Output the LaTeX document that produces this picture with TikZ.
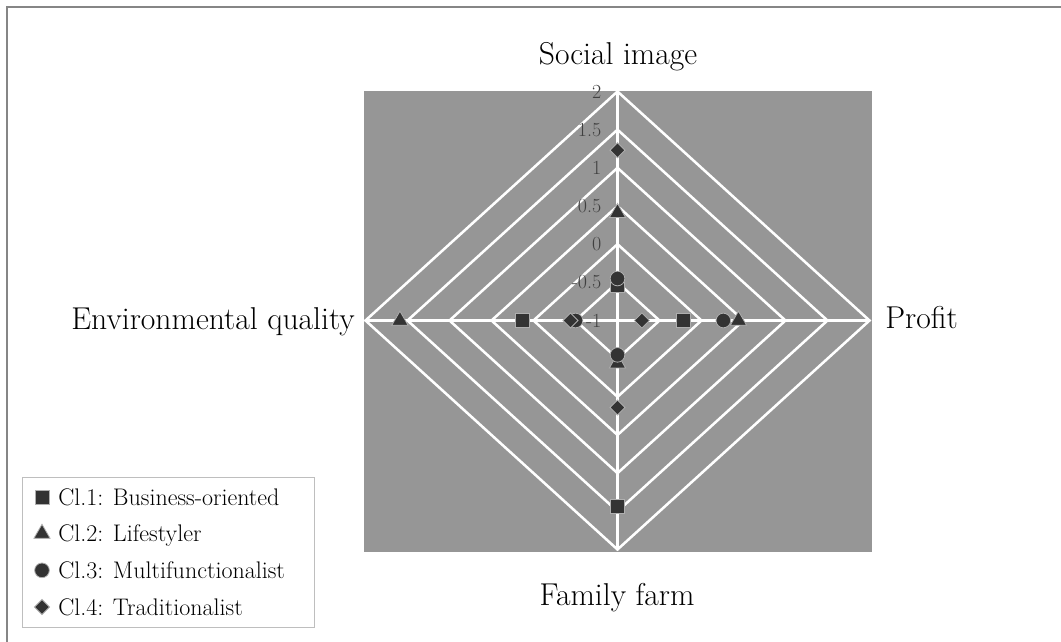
\documentclass[tikz,border=0pt]{standalone}
\usepackage{tikz}
\usetikzlibrary{shapes.geometric, positioning}
\definecolor{plotgray}{RGB}{150,150,150}
\definecolor{markfill}{RGB}{51,51,51}
\definecolor{markline}{RGB}{175,175,175}
\definecolor{framegray}{RGB}{134,134,134}
\definecolor{legendline}{RGB}{190,190,190}
\definecolor{ticktext}{RGB}{64,64,64}
\tikzstyle{webline} = [white, line width=1.9pt]
\tikzstyle{catlabel} = [inner sep=0, font=\fontsize{23.7}{28}\selectfont]
\tikzstyle{ticklabel} = [inner sep=0, anchor=east, text=ticktext, font=\fontsize{15}{17}\selectfont]
\tikzstyle{markbase} = [draw=markline, fill=markfill, line width=0.6pt, inner sep=0]
\tikzstyle{msquare} = [markbase, rectangle, minimum size=10.5pt]
\tikzstyle{mtriangle} = [markbase, regular polygon, regular polygon sides=3, minimum size=14pt]
\tikzstyle{mcircle} = [markbase, circle, minimum size=11pt]
\tikzstyle{mdiamond} = [markbase, diamond, minimum size=11.5pt]
\tikzstyle{legtext} = [inner sep=0, anchor=west, text height=12pt, text depth=0pt, font=\fontsize{18}{21}\selectfont]

\begin{document}
\begin{tikzpicture}[x=0.75pt, y=-0.75pt, node distance=27.5pt]
	\useasboundingbox (0,0) rectangle (1061,642);
	\clip (0,0) rectangle (1061,642);
	\draw[framegray, line width=1.5pt] (7,700) -- (7,7) -- (1100,7);
	\fill[plotgray] (364,91) rectangle (872,552);
	%----------------------------------------------------%
	\begin{scope}[shift={(617.5,320.5)}, x=63pt, y=57.25pt]
		\foreach \r in {0.5,1,...,3}
			\draw[webline] (\r,0) -- (0,\r) -- (-\r,0) -- (0,-\r) -- cycle;
		\draw[webline] (-3,0) -- (3,0);
		\draw[webline] (0,-3) -- (0,3);
		\foreach \v [count=\k] in {-1,-0.5,0,0.5,1,1.5,2}
			\node(tick\k) [ticklabel, xshift=-12pt] at (0,\v+1) {\v};
		
		%----------------------------------------------------%
		\node(c1soc) [msquare] at (0,0.46) {};
		\node(c1pro) [msquare] at (0.78,0) {};
		\node(c1fam) [msquare] at (0,-2.43) {};
		\node(c1env) [msquare] at (-1.13,0) {};
		
		\node(c2soc) [mtriangle] at (0,1.41) {};
		\node(c2pro) [mtriangle] at (1.44,0) {};
		\node(c2fam) [mtriangle] at (0,-0.56) {};
		\node(c2env) [mtriangle] at (-2.59,0) {};
		
		\node(c3soc) [mcircle] at (0,0.55) {};
		\node(c3pro) [mcircle] at (1.26,0) {};
		\node(c3fam) [mcircle] at (0,-0.45) {};
		\node(c3env) [mcircle] at (-0.5,0) {};
		
		\node(c4soc) [mdiamond] at (0,2.23) {};
		\node(c4pro) [mdiamond] at (0.29,0) {};
		\node(c4fam) [mdiamond] at (0,-1.14) {};
		\node(c4env) [mdiamond] at (-0.56,0) {};
	\end{scope}
	
	%----------------------------------------------------%
	\node(social) [catlabel, anchor=base] at (618,65) {Social image};
	\node(profit) [catlabel, anchor=base west] at (885,328) {Profit};
	\node(family) [catlabel, anchor=base] at (617,605) {Family farm};
	\node(environ) [catlabel, anchor=base east] at (355,329) {Environmental quality};
	
	%----------------------------------------------------%
	\draw[legendline, fill=white, line width=0.7pt] (22,477) rectangle (314,627);
	\node(lm1) [msquare] at (42,497) {};
	\node(lm2) [mtriangle, below of=lm1] {};
	\node(lm3) [mcircle, below of=lm2] {};
	\node(lm4) [mdiamond, below of=lm3] {};
	\node(lt1) [legtext, right=12pt of lm1.center] {Cl.1: Business-oriented};
	\node(lt2) [legtext, right=12pt of lm2.center] {Cl.2: Lifestyler};
	\node(lt3) [legtext, right=12pt of lm3.center] {Cl.3: Multifunctionalist};
	\node(lt4) [legtext, right=12pt of lm4.center] {Cl.4: Traditionalist};
\end{tikzpicture}
\end{document}
